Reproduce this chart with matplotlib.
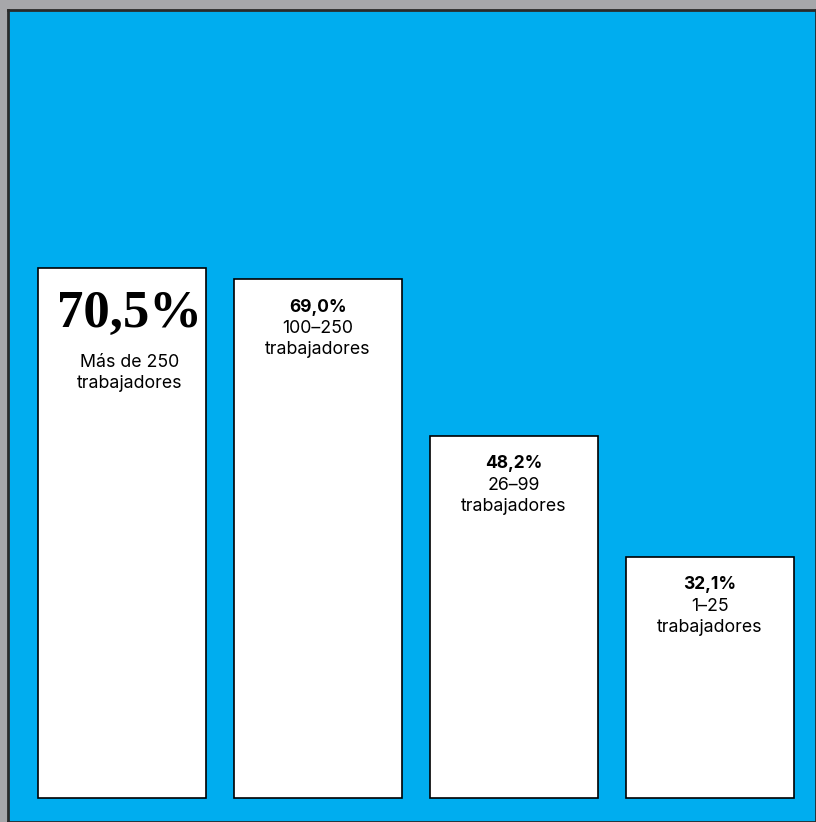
import matplotlib.pyplot as plt

# datos
categories = ["Más de 250\ntrabajadores", "100–250\ntrabajadores",
              "26–99\ntrabajadores", "1–25\ntrabajadores"]
values = [70.5, 69.0, 48.2, 32.1]
value_labels = ["70,5%", "69,0%", "48,2%", "32,1%"]

BLUE = "#00ADEF"
GRAY = "#A7A7AA"
PX = 72 / 100  # puntos por pixel a dpi 100

fig = plt.figure(figsize=(8.16, 8.22), dpi=100, facecolor=GRAY)
ax = fig.add_axes([8 / 816, 0, 808 / 816, 812 / 822])
ax.set_facecolor(BLUE)

x = list(range(len(values)))
ax.bar(x, values, width=168 / 196, color="white", edgecolor="black",
       linewidth=1.2, zorder=2)

ax.set_xlim(-0.5816, 3.541)
ax.set_ylim(-3.19, 104.8)
ax.set_xticks([])
ax.set_yticks([])
for side, sp in ax.spines.items():
    sp.set_color("#2a2a2a")
    sp.set_linewidth(2)

for i, (v, lab, cat) in enumerate(zip(values, value_labels, categories)):
    if i == 0:
        ax.annotate(lab, (i, v), xytext=(8 * PX, -46 * PX), textcoords="offset points",
                    ha="center", va="center", fontsize=38, fontweight="bold",
                    family="Liberation Serif", color="black", zorder=3)
        ax.annotate(cat, (i, v), xytext=(8 * PX, -105 * PX), textcoords="offset points",
                    ha="center", va="center", fontsize=12.8, family="Inter",
                    linespacing=1.32, color="black", zorder=3)
    else:
        ax.annotate(lab, (i, v), xytext=(0, -28 * PX), textcoords="offset points",
                    ha="center", va="center", fontsize=12.5, fontweight="bold",
                    family="Inter", color="black", zorder=3)
        ax.annotate(cat, (i, v), xytext=(0, -60 * PX), textcoords="offset points",
                    ha="center", va="center", fontsize=12.8, family="Inter",
                    linespacing=1.32, color="black", zorder=3)

fig.savefig("out.png", dpi=100, facecolor=GRAY)
